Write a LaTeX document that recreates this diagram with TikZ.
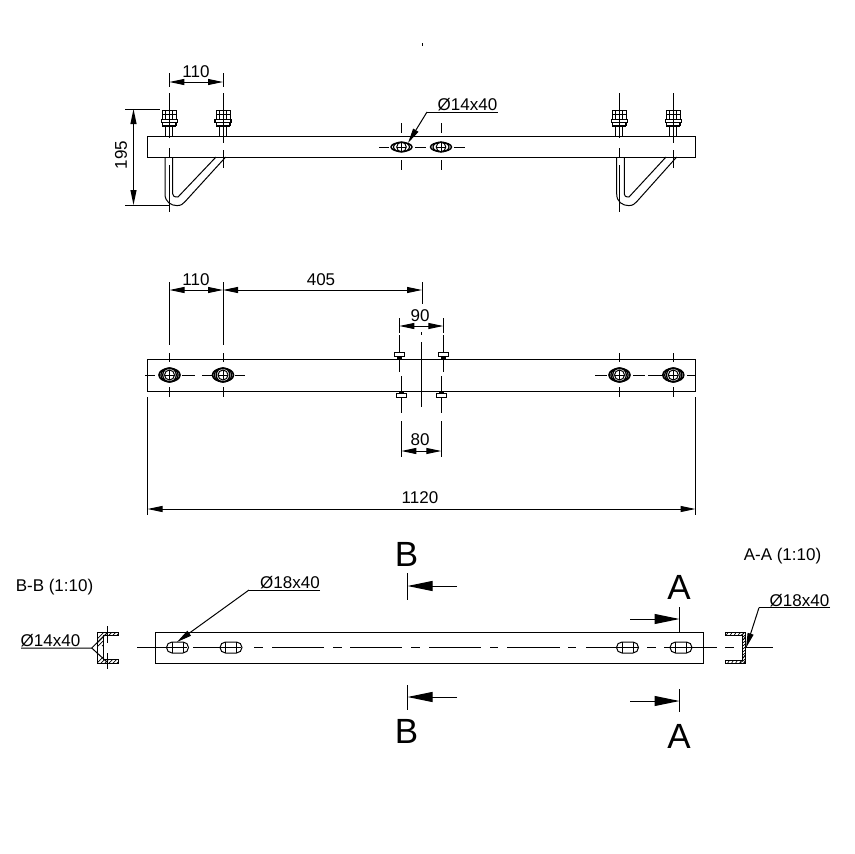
\documentclass[tikz,border=0pt]{standalone}
\usepackage{fontspec}
\setmainfont{Liberation Sans}
\usetikzlibrary{arrows.meta}
\tikzset{
  ln/.style={line width=1pt,black},
  thin ln/.style={line width=0.7pt,black},
  dimarrow/.style={ln,{Triangle[length=15pt,width=6pt]}-{Triangle[length=15pt,width=6pt]}},
  tip/.style={ln,-{Triangle[length=25pt,width=10pt]}},
  leadtip/.style={ln,-{Triangle[length=15pt,width=6pt]}},
  lab/.style={font=\fontsize{17}{18}\selectfont,inner sep=0pt},
  smalllab/.style={font=\fontsize{17}{18}\selectfont,inner sep=0pt},
  biglab/.style={font=\fontsize{35}{36}\selectfont,inner sep=0pt},
  nutbolt/.pic={
    \draw[ln] (-3.5,26) -- (-3.5,14) (3.5,26) -- (3.5,14);
    \draw[ln,fill=white] (-7,0) rectangle (7,15);
    \draw[thin ln] (-7,4) -- (7,4) (-3.5,0) -- (-3.5,15) (3.5,0) -- (3.5,15);
    \draw[line width=1.2pt,fill=white] (-8,9.5) rectangle (8,12.5);
    \draw[line width=1.2pt,fill=white] (-6.5,12.5) rectangle (6.5,16);
  },
  boltend/.pic={
    \draw[line width=1.6pt] (0,0) ellipse [x radius=10.5,y radius=6.6];
    \draw[line width=1.3pt] (0,0) ellipse [x radius=8.6,y radius=7];
    \draw[line width=1.3pt] (0,0) ellipse [x radius=6.8,y radius=7];
    \draw[ln,fill=white] (0,0) circle [radius=5];
    \draw[thin ln] (-5,0) -- (5,0) (0,-5) -- (0,5);
  },
  boltsmall/.pic={
    \draw[line width=1.5pt] (0,0) ellipse [x radius=10.5,y radius=4.4];
    \draw[line width=1.2pt] (0,0) ellipse [x radius=8,y radius=5];
    \draw[ln,fill=white] (0,0) circle [radius=4.8];
    \draw[thin ln] (-4.8,0) -- (4.8,0) (0,-4.8) -- (0,4.8);
  },
  oblong/.pic={
    \draw[ln] (-5.5,-5.5) -- (5.5,-5.5) arc (-90:90:5.5) -- (-5.5,5.5) arc (90:270:5.5);
    \draw[thin ln] (-5.5,-5.5) -- (-5.5,5.5) (5.5,-5.5) -- (5.5,5.5);
  },
  tbolttop/.pic={
    \draw[thin ln,fill=white] (-5,-7) rectangle (5,-2.5);
    \fill (-2.5,-2.5) rectangle (2.5,0);
  },
  tboltbot/.pic={
    \draw[thin ln,fill=white] (-5,2) rectangle (5,6.5);
    \fill (-2.5,0) rectangle (2.5,2);
  }
}
\begin{document}
\begin{tikzpicture}[x=1pt,y=-1pt]
\useasboundingbox (0,0) rectangle (855,854);
% stray tick
\draw[thin ln] (422,43) -- (422,46);

% ===== top view =====
\foreach \xx in {169.3,223,619.3,673.3}
  \path (\xx,110) pic {nutbolt};
\draw[ln] (147.5,136) rectangle (695.5,157);
% U-bolts
\draw[ln] (165,157) -- (165,194) .. controls (165,202) and (171,205.6) .. (177,205.6)
  .. controls (181,205.6) and (183,204) .. (185,201.7) -- (225.7,157);
\draw[ln] (172.7,157) -- (172.7,194) .. controls (172.7,196) and (174,197) .. (178,197) -- (216,157);
\draw[ln] (616.7,157) -- (616.7,194) .. controls (616.7,202) and (622.7,205.6) .. (628.7,205.6)
  .. controls (632.7,205.6) and (634.7,204) .. (636.7,201.7) -- (676.7,157);
\draw[ln] (624.3,157) -- (624.3,194) .. controls (624.3,196) and (625.6,197) .. (629,197) -- (666,157);
% centre lines
\foreach \xx in {169.3,619.3}
  \draw[ln] (\xx,93) -- (\xx,138) (\xx,148) -- (\xx,157) (\xx,165) -- (\xx,212);
\foreach \xx in {223,673.3}
  \draw[ln] (\xx,93) -- (\xx,143) (\xx,150) -- (\xx,168);
% centre slots
\draw[ln] (379,147) -- (389,147) (415,147) -- (426,147) (454,147) -- (465,147);
\foreach \xx in {401.5,441}
  \draw[ln] (\xx,123) -- (\xx,133) (\xx,160) -- (\xx,170);
\path (401.5,147) pic {boltsmall};
\path (441,147) pic {boltsmall};
% dim 110 (top)
\coordinate (tdl) at (169.3,82);
\coordinate (tdr) at (223,82);
\draw[ln] (169.3,73) -- (169.3,87) (223,73) -- (223,87);
\draw[dimarrow] (tdl) -- (tdr);
\node[lab] (t110) at (196,71.5) {110};
% dim 195
\coordinate (vdt) at (133.5,109);
\coordinate (vdb) at (133.5,205);
\draw[ln] (125,109) -- (160,109) (125,205) -- (170,205);
\draw[dimarrow] (vdt) -- (vdb);
\node[lab,rotate=90] (t195) at (121,155) {195};
% leader D14x40
\node[lab,anchor=south] (t14) at (467.5,111.5) {Ø14x40};
\coordinate (l14a) at (427,112);
\coordinate (l14b) at (497.7,112);
\coordinate (l14c) at (408,143);
\draw[ln] (l14b) -- (l14a);
\draw[leadtip] (l14a) -- (l14c);

% ===== middle view =====
\draw[ln] (147.5,359) rectangle (695.5,391);
\foreach \xx in {169.5,223,619.5,673.3}{
  \draw[ln] (\xx,353) -- (\xx,362) (\xx,387) -- (\xx,397);
  \path (\xx,375) pic {boltend};
}
\draw[ln] (145,375) -- (155,375) (182,375) -- (195,375) (202,375) -- (212,375) (235,375) -- (245,375)
  (595,375) -- (607,375) (633,375) -- (645,375) (648,375) -- (662,375) (687,375) -- (695,375);
% extension lines
\draw[ln] (169.5,282) -- (169.5,345) (223,282) -- (223,345) (422,282) -- (422,304);
\draw[ln] (399.3,318) -- (399.3,333) (443.3,318) -- (443.3,333);
\draw[ln] (399.3,335) -- (399.3,372) (443.3,335) -- (443.3,372);
\draw[ln] (401.3,376) -- (401.3,413) (441.3,376) -- (441.3,413);
\draw[ln] (401.3,421) -- (401.3,457) (441.3,421) -- (441.3,457);
\draw[ln] (421.5,342) -- (421.5,407);
\draw[thin ln] (421.5,332) -- (421.5,334.5);
\path (399.3,359) pic {tbolttop};
\path (443.3,359) pic {tbolttop};
\path (401.3,391) pic {tboltbot};
\path (441.3,391) pic {tboltbot};
\draw[ln] (147.5,397) -- (147.5,515) (695.5,397) -- (695.5,515);
% dims
\coordinate (m1) at (169.5,290);
\coordinate (m2) at (223,290);
\coordinate (m3) at (422,290);
\draw[dimarrow] (m1) -- (m2);
\draw[dimarrow] (m2) -- (m3);
\node[lab] (m110) at (196,280) {110};
\node[lab] (m405) at (321,280) {405};
\coordinate (d90a) at (399.3,326);
\coordinate (d90b) at (443.3,326);
\draw[dimarrow] (d90a) -- (d90b);
\node[lab] (m90) at (420,316) {90};
\coordinate (d80a) at (401.3,451);
\coordinate (d80b) at (441.3,451);
\draw[dimarrow] (d80a) -- (d80b);
\node[lab] (m80) at (420,440) {80};
\coordinate (d1120a) at (147.5,509);
\coordinate (d1120b) at (695.5,509);
\draw[dimarrow] (d1120a) -- (d1120b);
\node[lab] (m1120) at (420,498) {1120};

% ===== bottom view =====
\draw[ln] (155.5,632) rectangle (703,663);
\foreach \aa/\bb in {137/187,193/241,254/263,272/324,333/342,350/402,411/420,429/481,490/498,507/560,568/576,586/638,647/656,664/717,725/734,746/773}
  \draw[ln] (\aa,647.5) -- (\bb,647.5);
\foreach \xx in {177.5,231,627.5,681}
  \path (\xx,647.5) pic {oblong};
% section marks
\node[biglab] (secB1) at (406.5,554) {B};
\node[biglab] (secB2) at (406.5,731) {B};
\node[biglab] (secA1) at (679,587) {A};
\node[biglab] (secA2) at (679,736) {A};
\draw[ln] (407.5,573) -- (407.5,600) (407.5,685) -- (407.5,710);
\coordinate (bt) at (457,586);
\coordinate (bth) at (407.5,586);
\coordinate (bb) at (457,697);
\coordinate (bbh) at (407.5,697);
\draw[tip] (bt) -- (bth);
\draw[tip] (bb) -- (bbh);
\draw[ln] (679.5,607) -- (679.5,632) (679.5,689) -- (679.5,712);
\coordinate (at) at (630,619);
\coordinate (ath) at (679.5,619);
\coordinate (ab) at (630,701);
\coordinate (abh) at (679.5,701);
\draw[tip] (at) -- (ath);
\draw[tip] (ab) -- (abh);
% leader D18x40 (left)
\node[lab,anchor=south] (t18a) at (290,589.5) {Ø18x40};
\coordinate (l18a) at (320,590);
\coordinate (l18b) at (249,590);
\coordinate (l18c) at (177,642);
\draw[ln] (l18a) -- (l18b);
\draw[leadtip] (l18b) -- (l18c);

% section B-B
\node[smalllab] (tbb) at (54.5,587) {B-B (1:10)};
\draw[thin ln] (118,632) -- (97.3,632) -- (97.3,663) -- (118,663) -- (118,659.5) -- (103,659.5) -- (103,635.5) -- (118,635.5) -- cycle;
\begin{scope}
\clip (118,632) -- (97.3,632) -- (97.3,663) -- (118,663) -- (118,659.5) -- (103,659.5) -- (103,635.5) -- (118,635.5) -- cycle;
\foreach \k in {0,4,...,40}
  \draw[thin ln] (90+\k,646) -- (110+\k,626);
\foreach \k in {0,4,...,40}
  \draw[thin ln] (90+\k,670) -- (110+\k,650);
\end{scope}
\draw[ln] (107.3,626) -- (107.3,643) (107.3,653) -- (107.3,669);
\node[lab,anchor=south] (t14b) at (50.5,647.5) {Ø14x40};
\coordinate (l14ba) at (21,648);
\coordinate (l14bb) at (91.7,648);
\coordinate (l14bc) at (107,633);
\coordinate (l14bd) at (107,662);
\draw[ln] (l14ba) -- (l14bb) -- (l14bc);
\draw[ln] (l14bb) -- (l14bd);

% section A-A
\node[smalllab] (taa) at (782.5,556) {A-A (1:10)};
\draw[thin ln] (725,632) -- (745.7,632) -- (745.7,663) -- (725,663) -- (725,660) -- (742,660) -- (742,635.5) -- (725,635.5) -- cycle;
\begin{scope}
\clip (725,632) -- (745.7,632) -- (745.7,663) -- (725,663) -- (725,660) -- (742,660) -- (742,635.5) -- (725,635.5) -- cycle;
\foreach \k in {0,4,...,60}
  \draw[thin ln] (715+\k,640) -- (725+\k,625);
\foreach \k in {0,4,...,60}
  \draw[thin ln] (715+\k,670) -- (725+\k,655);
\foreach \k in {0,3,...,36}
  \draw[thin ln] (740,633+\k) -- (748,627+\k);
\end{scope}
\node[lab,anchor=south] (t18b) at (799.5,607.5) {Ø18x40};
\coordinate (l18ba) at (830,607.7);
\coordinate (l18bb) at (759,607.7);
\coordinate (l18bc) at (746,648);
\draw[ln] (l18ba) -- (l18bb);
\draw[leadtip] (l18bb) -- (l18bc);
\end{tikzpicture}
\end{document}
